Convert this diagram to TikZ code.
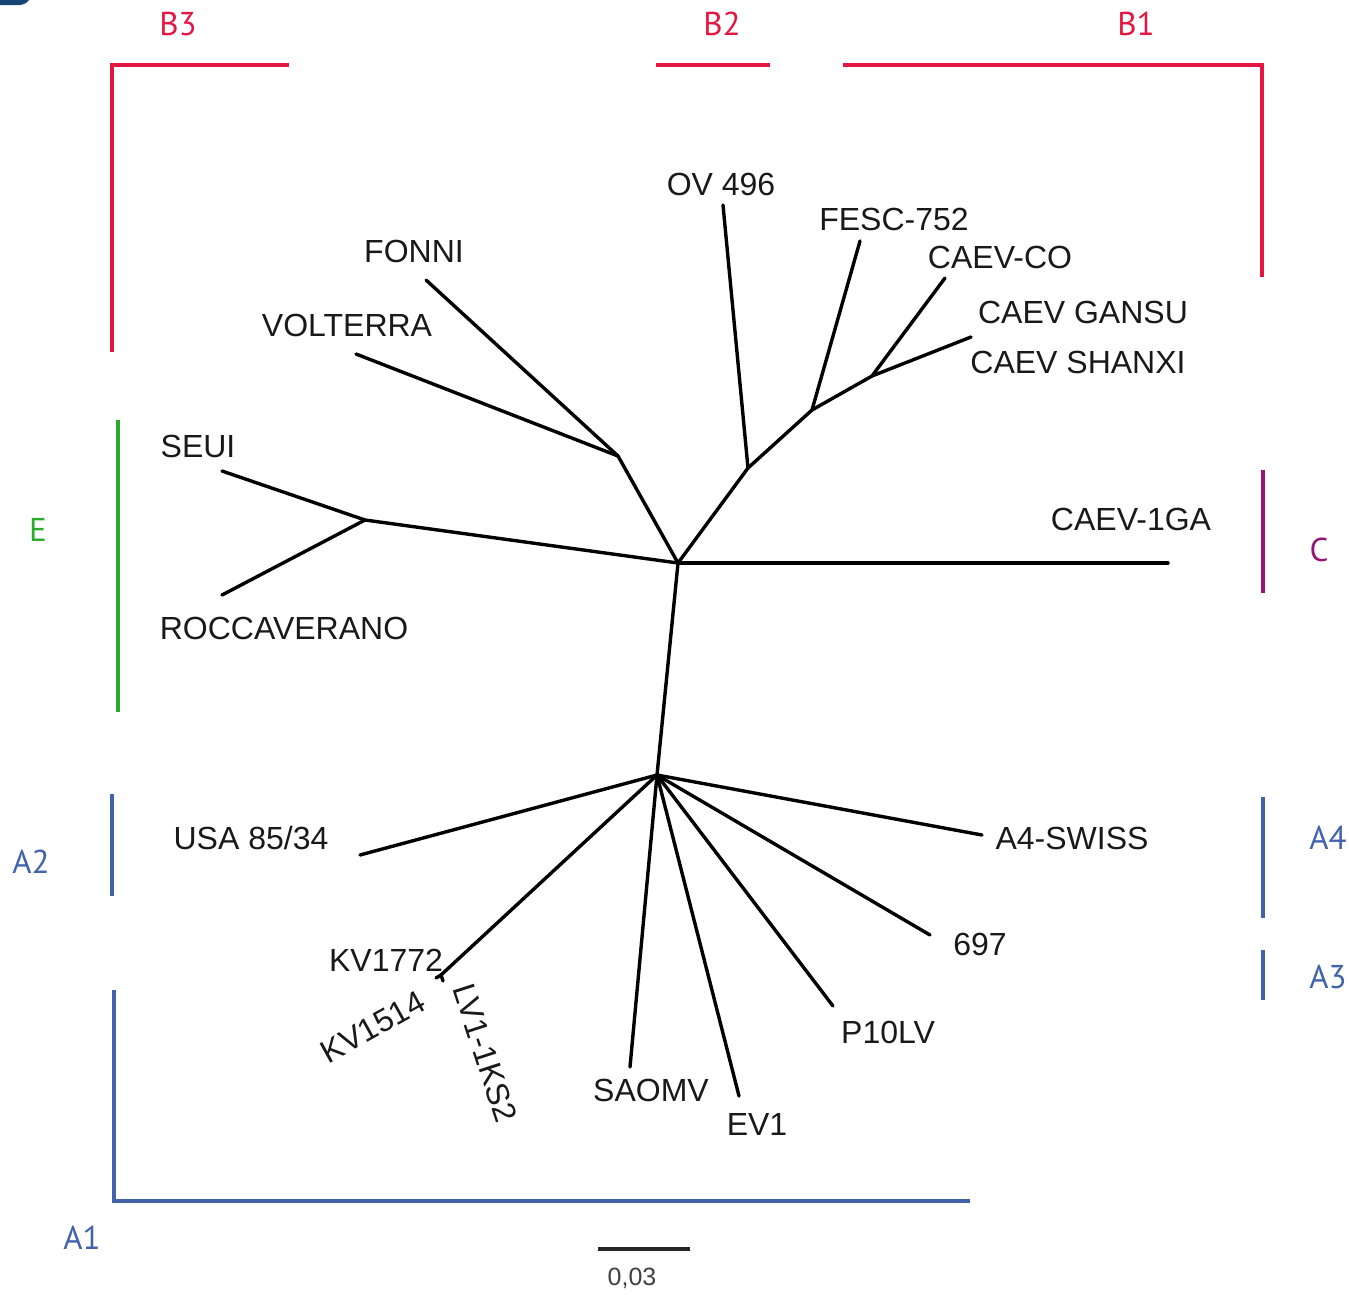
\documentclass[tikz,border=0pt]{standalone}
\usepackage{fontspec}
\setmainfont{Liberation Sans}
\newfontfamily\cladefont{PT Sans}
\definecolor{cladeRed}{RGB}{228,22,66}
\definecolor{cladeGreen}{RGB}{44,170,48}
\definecolor{cladePurple}{RGB}{150,22,118}
\definecolor{cladeBlue}{RGB}{66,98,170}
\definecolor{cornerBlue}{RGB}{22,70,118}
\tikzset{
  branch/.style={line width=3.4pt, line cap=round, line join=round, black},
  taxon/.style={font=\fontsize{32}{36}\selectfont, inner sep=0pt, text=black!90},
  bracket/.style={line width=4pt, line join=miter},
  cladelabel/.style={font=\cladefont\fontsize{33}{36}\selectfont, inner sep=0pt},
}
\begin{document}
\begin{tikzpicture}[x=1pt, y=-1pt]
\useasboundingbox (0,0) rectangle (1349,1294);
\fill[cornerBlue] (0,0) -- (29,0) -- (26,3) to[out=200,in=0] (20,5) -- (0,5) -- cycle;

% --- internal nodes of the tree ---
\coordinate (rootU) at (678,563);
\coordinate (rootL) at (657,775);
\coordinate (nE)    at (365,520);
\coordinate (nB3)   at (618,456);
\coordinate (nB)    at (748,468);
\coordinate (nB1a)  at (812,410);
\coordinate (nB1b)  at (872,376);
\coordinate (nKV)   at (441,975);

% --- leaf ends ---
\coordinate (tC)     at (1168,563);
\coordinate (tSEUI)  at (222,471);
\coordinate (tROCC)  at (222,595);
\coordinate (tFONNI) at (426,280);
\coordinate (tVOLT)  at (356,354);
\coordinate (tOV)    at (723,205);
\coordinate (tFESC)  at (860,241);
\coordinate (tCO)    at (945,278);
\coordinate (tGAN)   at (971,337);
\coordinate (tUSA)   at (360,855);
\coordinate (tKVa)   at (436,978);
\coordinate (tKVb)   at (443,981);
\coordinate (tSAO)   at (630,1067);
\coordinate (tEV)    at (739,1096);
\coordinate (tP10)   at (833,1006);
\coordinate (t697)   at (930,935);
\coordinate (tA4)    at (982,835);

% --- branches ---
\draw[branch] (rootU) -- (rootL);
\draw[branch] (rootU) -- (tC);
\draw[branch] (rootU) -- (nE);
\draw[branch] (nE) -- (tSEUI);
\draw[branch] (nE) -- (tROCC);
\draw[branch] (rootU) -- (nB3);
\draw[branch] (nB3) -- (tFONNI);
\draw[branch] (nB3) -- (tVOLT);
\draw[branch] (rootU) -- (nB);
\draw[branch] (nB) -- (tOV);
\draw[branch] (nB) -- (nB1a);
\draw[branch] (nB1a) -- (tFESC);
\draw[branch] (nB1a) -- (nB1b);
\draw[branch] (nB1b) -- (tCO);
\draw[branch] (nB1b) -- (tGAN);
\draw[branch] (rootL) -- (tUSA);
\draw[branch] (rootL) -- (nKV);
\draw[branch] (nKV) -- (tKVa);
\draw[branch] (nKV) -- (tKVb);
\draw[branch] (rootL) -- (tSAO);
\draw[branch] (rootL) -- (tEV);
\draw[branch] (rootL) -- (tP10);
\draw[branch] (rootL) -- (t697);
\draw[branch] (rootL) -- (tA4);

% --- taxon names ---
\node[taxon] (lC)     at (1131,519) {CAEV-1GA};
\node[taxon] (lSEUI)  at (198,446)  {SEUI};
\node[taxon] (lROCC)  at (284,628)  {ROCCAVERANO};
\node[taxon] (lFONNI) at (414,251)  {FONNI};
\node[taxon] (lVOLT)  at (347,325)  {VOLTERRA};
\node[taxon] (lOV)    at (721,184)  {OV 496};
\node[taxon] (lFESC)  at (894,219)  {FESC-752};
\node[taxon] (lCO)    at (1000,257) {CAEV-CO};
\node[taxon] (lGAN)   at (1083,312) {CAEV GANSU};
\node[taxon] (lSHX)   at (1078,362) {CAEV SHANXI};
\node[taxon] (lUSA)   at (251,838)  {USA 85/34};
\node[taxon] (lKV72)  at (386,960)  {KV1772};
\node[taxon, rotate=29]  (lKV14) at (373,1027) {KV1514};
\node[taxon, rotate=-72] (lLV)   at (485,1053) {LV1-1KS2};
\node[taxon] (lSAO)   at (651,1090) {SAOMV};
\node[taxon] (lEV)    at (757,1124) {EV1};
\node[taxon] (lP10)   at (888,1032) {P10LV};
\node[taxon] (l697)   at (980,944)  {697};
\node[taxon] (lA4)    at (1072,838) {A4-SWISS};

% --- scale bar ---
\coordinate (sbL) at (598,1249);
\coordinate (sbR) at (690,1249);
\draw[line width=4pt, black!85] (sbL) -- (sbR);
\node[font=\fontsize{25}{28}\selectfont, text=black!75, inner sep=0pt] (sbT) at (632,1278) {0,03};

% --- clade brackets ---
\coordinate (b3a) at (112,352);
\coordinate (b3b) at (112,65);
\coordinate (b3c) at (289,65);
\draw[bracket, cladeRed] (b3a) -- (b3b) -- (b3c);
\node[cladelabel, text=cladeRed] (cB3) at (178,24) {B3};

\coordinate (b2a) at (656,65);
\coordinate (b2b) at (770,65);
\draw[bracket, cladeRed] (b2a) -- (b2b);
\node[cladelabel, text=cladeRed] (cB2) at (722,24) {B2};

\coordinate (b1a) at (843,65);
\coordinate (b1b) at (1262,65);
\coordinate (b1c) at (1262,277);
\draw[bracket, cladeRed] (b1a) -- (b1b) -- (b1c);
\node[cladelabel, text=cladeRed] (cB1) at (1136,24) {B1};

\coordinate (ea) at (118,420);
\coordinate (eb) at (118,712);
\draw[bracket, cladeGreen] (ea) -- (eb);
\node[cladelabel, text=cladeGreen] (cE) at (38,530) {E};

\coordinate (ca) at (1263,470);
\coordinate (cb) at (1263,593);
\draw[bracket, cladePurple] (ca) -- (cb);
\node[cladelabel, text=cladePurple] (cC) at (1319,550) {C};

\coordinate (a4a) at (1263,797);
\coordinate (a4b) at (1263,918);
\draw[bracket, cladeBlue] (a4a) -- (a4b);
\node[cladelabel, text=cladeBlue] (cA4) at (1328,838) {A4};

\coordinate (a3a) at (1263,950);
\coordinate (a3b) at (1263,1000);
\draw[bracket, cladeBlue] (a3a) -- (a3b);
\node[cladelabel, text=cladeBlue] (cA3) at (1328,977) {A3};

\coordinate (a2a) at (112,794);
\coordinate (a2b) at (112,896);
\draw[bracket, cladeBlue] (a2a) -- (a2b);
\node[cladelabel, text=cladeBlue] (cA2) at (31,862) {A2};

\coordinate (a1a) at (114,990);
\coordinate (a1b) at (114,1201);
\coordinate (a1c) at (970,1201);
\draw[bracket, cladeBlue] (a1a) -- (a1b) -- (a1c);
\node[cladelabel, text=cladeBlue] (cA1) at (82,1238) {A1};
\end{tikzpicture}
\end{document}
